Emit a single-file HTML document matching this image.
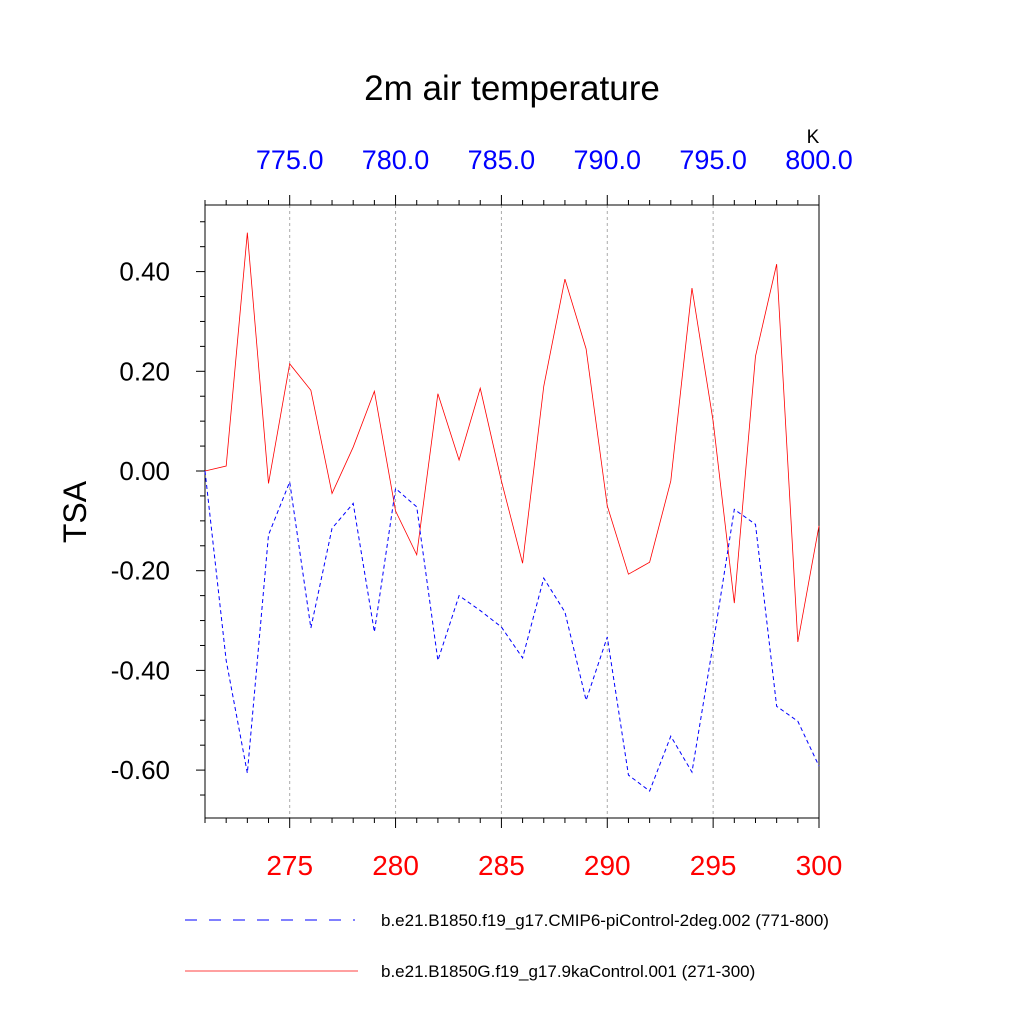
<!DOCTYPE html>
<html><head><meta charset="utf-8"><style>
body{margin:0;background:#fff}
svg{display:block;font-family:"Liberation Sans",sans-serif}
</style></head><body>
<svg width="1024" height="1024" viewBox="0 0 1024 1024">
<g id="g"></g>
</svg>
<script>
const yearsBottom=[271,272,273,274,275,276,277,278,279,280,281,282,283,284,285,286,287,288,289,290,291,292,293,294,295,296,297,298,299,300];
const redValues=[0.00,0.01,0.478,-0.025,0.215,0.162,-0.045,0.048,0.16,-0.08,-0.168,0.155,0.022,0.166,-0.02,-0.185,0.17,0.385,0.245,-0.07,-0.207,-0.183,-0.02,0.367,0.10,-0.265,0.23,0.415,-0.343,-0.11];
const blueValues=[0.0,-0.38,-0.606,-0.128,-0.022,-0.315,-0.115,-0.065,-0.323,-0.035,-0.072,-0.38,-0.25,-0.28,-0.313,-0.375,-0.215,-0.283,-0.46,-0.333,-0.61,-0.642,-0.532,-0.604,-0.347,-0.077,-0.107,-0.472,-0.502,-0.592];
const yTicks=[0.4,0.2,0,-0.2,-0.4,-0.6];
const yTickLabels=["0.40","0.20","0.00","-0.20","-0.40","-0.60"];
const bottomTicks=[275,280,285,290,295,300];
const topTicks=[775,780,785,790,795,800];
const topTickLabels=["775.0","780.0","785.0","790.0","795.0","800.0"];
const L=205,R=819,T=205,B=818;
const X=v=>L+(v-271)*(R-L)/29;
const XT=v=>X(v-500);
const Y=v=>471-(v)*498.5;
const g=document.getElementById('g');
const NS='http://www.w3.org/2000/svg';
function mk(t,a,p){const e=document.createElementNS(NS,t);for(const k in a)e.setAttribute(k,a[k]);(p||g).appendChild(e);return e;}
let e;
topTicks.slice(0,5).forEach(v=>{e=mk('line',{x1:XT(v),x2:XT(v),y1:T,y2:B,stroke:'#aaa','stroke-width':1,'stroke-dasharray':'3,3'});

});
e=mk('rect',{x:L,y:T,width:R-L,height:B-T,fill:'none',stroke:'#000','stroke-width':1});


for(let v=-0.7;v<=0.53;v+=0.05){const y=Y(v);if(y<T||y>B)continue;const maj=Math.abs(Math.round(v*100)%20)<1;
mk('line',{x1:L-(maj?9:5),x2:L,y1:y,y2:y,stroke:'#000'});}
yTicks.forEach((v,i)=>{e=mk('text',{x:170,y:Y(v)+9,'font-size':26,'text-anchor':'end',fill:'#000'});e.textContent=yTickLabels[i];

});
for(let v=271;v<=300;v++){const maj=v%5==0;mk('line',{x1:X(v),x2:X(v),y1:B,y2:B+(maj?10:5),stroke:'#000'});mk('line',{x1:X(v),x2:X(v),y1:T-(maj?10:5),y2:T,stroke:'#000'});}
bottomTicks.forEach(v=>{e=mk('text',{x:X(v),y:875,'font-size':28,'text-anchor':'middle',fill:'#f00'});e.textContent=v;

});
topTicks.forEach((v,i)=>{e=mk('text',{x:XT(v),y:169,'font-size':27,'text-anchor':'middle',fill:'#00f'});e.textContent=topTickLabels[i];

});
e=mk('polyline',{points:yearsBottom.map((v,i)=>X(v)+','+Y(redValues[i])).join(' '),fill:'none',stroke:'#f00','stroke-width':0.8});


e=mk('polyline',{points:yearsBottom.map((v,i)=>X(v)+','+Y(blueValues[i])).join(' '),fill:'none',stroke:'#00f','stroke-width':1,'stroke-dasharray':'4,3'});


e=mk('text',{x:512,y:100,'font-size':35,'text-anchor':'middle'});e.textContent='2m air temperature';


e=mk('text',{x:813,y:143,'font-size':19,'text-anchor':'middle'});e.textContent='K';


e=mk('text',{x:0,y:0,'font-size':32,'text-anchor':'middle',transform:'translate(86,512) rotate(-90)'});e.textContent='TSA';


e=mk('line',{x1:185,x2:355,y1:920,y2:920,stroke:'#00f','stroke-dasharray':'12,12'});


e=mk('text',{x:381,y:926,'font-size':17});e.textContent='b.e21.B1850.f19_g17.CMIP6-piControl-2deg.002 (771-800)';


e=mk('line',{x1:185,x2:358,y1:971,y2:971,stroke:'#f00','stroke-width':0.8});


e=mk('text',{x:381,y:977,'font-size':17});e.textContent='b.e21.B1850G.f19_g17.9kaControl.001 (271-300)';


</script>
</body></html>
